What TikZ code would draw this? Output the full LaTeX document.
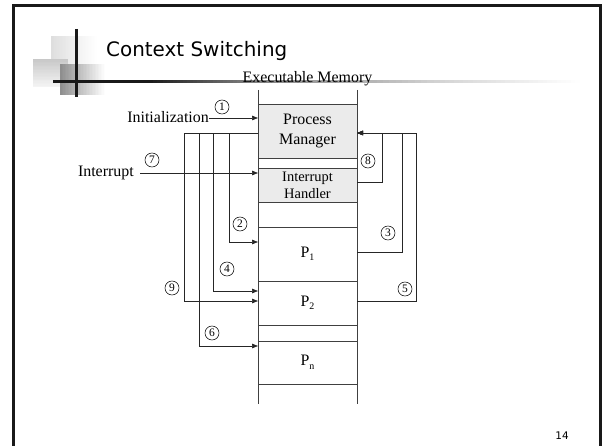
\documentclass[tikz,border=0pt]{standalone}
\usepackage{fontspec}
\setmainfont{Liberation Serif}
\newfontfamily\slidefont{DejaVu Sans}
\usetikzlibrary{arrows.meta}
% horizontal grey ramp built from thin strips: x1,y1,x2,y2,from%,to%
\newcommand\hfadebox[6]{%
  \foreach \k in {0,...,29}{%
    \pgfmathsetmacro\xa{#1+(#3-#1)*\k/30}%
    \pgfmathsetmacro\xb{#1+(#3-#1)*(\k+1)/30+0.4}%
    \pgfmathsetmacro\cc{#5+(#6-#5)*(\k+0.5)/30}%
    \fill[black!\cc] (\xa,#2) rectangle (\xb,#4);}}
% vertical grey ramp built from thin strips: x1,y1,x2,y2,top%,bottom%
\newcommand\vfadebox[6]{%
  \foreach \k in {0,...,19}{%
    \pgfmathsetmacro\ya{#2+(#4-#2)*\k/20}%
    \pgfmathsetmacro\yb{#2+(#4-#2)*(\k+1)/20+0.4}%
    \pgfmathsetmacro\cc{#5+(#6-#5)*(\k+0.5)/20}%
    \fill[black!\cc] (#1,\ya) rectangle (#3,\yb);}}
\begin{document}
\begin{tikzpicture}[x=1bp,y=-1bp,
  conn/.style={draw=black!85, line width=0.7bp},
  arr/.style={conn, -{Triangle[length=6bp,width=4.5bp]}},
  mem/.style={draw=black!75, line width=0.7bp, minimum width=99bp,
    inner sep=0pt, outer sep=0pt},
  shadedmem/.style={mem, fill=black!8},
  lbl/.style={font=\fontsize{16}{19}\selectfont, inner sep=0pt},
  num/.style={circle, draw=black, line width=0.55bp, minimum size=14bp,
    inner sep=0pt, font=\fontsize{11.5}{11.5}\selectfont}]
\useasboundingbox (0,0) rectangle (602,446);

% slide frame
\draw[line width=2.5bp, black!90] (13.5,447) -- (13.5,5.5) -- (600.5,5.5) -- (600.5,447);

% title ornament
\hfadebox{51}{36}{97}{67}{13}{0}
\vfadebox{33}{59}{68}{87}{22}{4}
\hfadebox{60}{64}{105}{95}{45}{0}
\draw[line width=3bp, black!90] (53,81.5) -- (150,81.5);
\hfadebox{150}{80}{250}{83}{90}{50}
\hfadebox{250}{80}{440}{83}{50}{17}
\hfadebox{440}{80}{580}{83}{17}{0}
\draw[line width=3bp, black!90] (76,29) -- (76,97);

\node[font=\slidefont\fontsize{20}{24}\selectfont, anchor=base west, inner sep=0pt]
  (title) at (106,57) {Context Switching};
\node[font=\slidefont\fontsize{10.5}{12}\selectfont, anchor=base, inner sep=0pt]
  (page) at (562,439) {14};

% memory column
\node[lbl, anchor=base] (exe) at (307.5,83) {Executable Memory};
\node[shadedmem, minimum height=54bp, align=center,
  font=\fontsize{16}{19.5}\selectfont] (pm) at (307.5,131) {Process\\Manager};
\node[shadedmem, minimum height=34bp, align=center,
  font=\fontsize{14.5}{17}\selectfont] (ih) at (307.5,185) {Interrupt\\Handler};
\node[mem, minimum height=54bp, font=\fontsize{16}{19}\selectfont] (p1) at (307.5,254)
  {P\raisebox{-3.5bp}{\fontsize{10}{10}\selectfont 1}};
\node[mem, minimum height=44bp, font=\fontsize{16}{19}\selectfont] (p2) at (307.5,303)
  {P\raisebox{-3.5bp}{\fontsize{10}{10}\selectfont 2}};
\node[mem, minimum height=43bp, font=\fontsize{16}{19}\selectfont] (pn) at (307.5,362.5)
  {P\raisebox{-3.5bp}{\fontsize{10}{10}\selectfont n}};
\draw[mem] (pm.west |- 0,90) -- (pn.west |- 0,404);
\draw[mem] (pm.east |- 0,90) -- (pn.east |- 0,404);

% external entries
\node[lbl, anchor=base east] (init) at (209,123) {Initialization};
\draw[arr] (init.east |- 0,118) -- (pm.west |- 0,118);
\node[lbl, anchor=base east] (intr) at (134,177) {Interrupt};
\draw[arr] ([xshift=6bp]intr.east |- 0,173) -- (ih.west |- 0,173);

% dispatch from the process manager
\draw[arr] (pm.west |- 0,133) -| (229,242) -- (p1.west |- 0,242);
\draw[arr] (pm.west |- 0,133) -| (213,291) -- (p2.west |- 0,291);
\draw[arr] (pm.west |- 0,133) -| (199,346) -- (pn.west |- 0,346);
\draw[arr] (pm.west |- 0,133) -| (184,301) -- (p2.west |- 0,301);

% returns to the process manager
\draw[arr] (ih.east |- 0,182) -| (382,133) -- (pm.east |- 0,133);
\draw[arr] (p1.east |- 0,252) -| (402,133) -- (pm.east |- 0,133);
\draw[arr] (p2.east |- 0,301) -| (416,133) -- (pm.east |- 0,133);

% step numbers
\node[num] (s1) at (222,107) {1};
\node[num] (s2) at (240,224) {2};
\node[num] (s3) at (388,233) {3};
\node[num] (s4) at (227,269) {4};
\node[num] (s5) at (405,289) {5};
\node[num] (s6) at (212,333) {6};
\node[num] (s7) at (152,160) {7};
\node[num] (s8) at (368,161) {8};
\node[num] (s9) at (172,288) {9};
\end{tikzpicture}
\end{document}
